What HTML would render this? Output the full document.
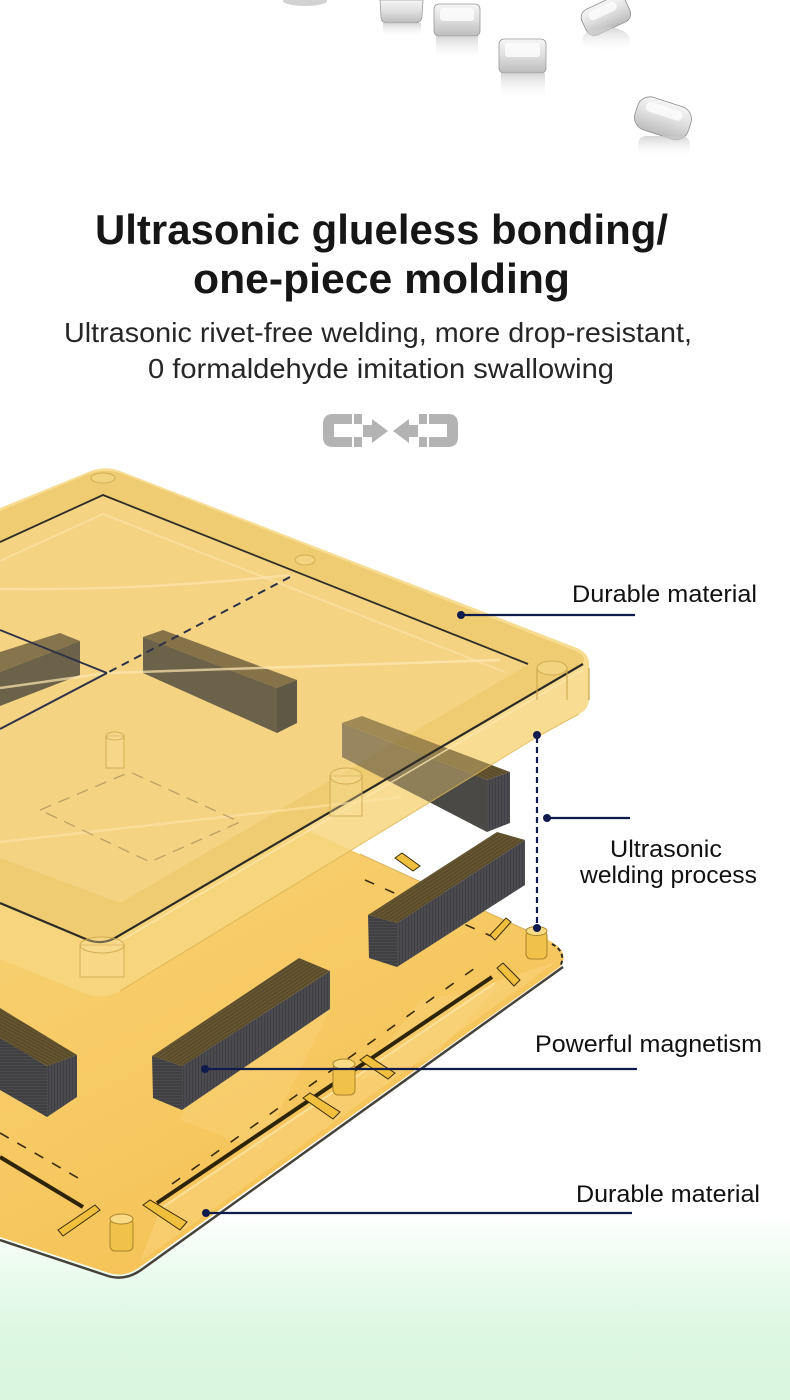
<!DOCTYPE html>
<html><head><meta charset="utf-8">
<style>
html,body{margin:0;padding:0;}
body{width:790px;height:1400px;overflow:hidden;background:#fff;}
svg{display:block;}
text{font-family:"Liberation Sans",Arial,sans-serif;}
</style></head>
<body>
<svg width="790" height="1400" viewBox="0 0 790 1400" xmlns="http://www.w3.org/2000/svg">
<defs>
  <linearGradient id="bg" x1="0" y1="0" x2="0" y2="1400" gradientUnits="userSpaceOnUse">
    <stop offset="0" stop-color="#ffffff"/>
    <stop offset="0.868" stop-color="#ffffff"/>
    <stop offset="0.91" stop-color="#eafbed"/>
    <stop offset="0.95" stop-color="#ddf7e2"/>
    <stop offset="1" stop-color="#daf6df"/>
  </linearGradient>
  <linearGradient id="pel" x1="0" y1="0" x2="0" y2="1">
    <stop offset="0" stop-color="#f6f6f6"/>
    <stop offset="0.5" stop-color="#dedede"/>
    <stop offset="1" stop-color="#bcbcbc"/>
  </linearGradient>
  <linearGradient id="refl" x1="0" y1="0" x2="0" y2="1">
    <stop offset="0" stop-color="#c8c8c8" stop-opacity="0.75"/>
    <stop offset="1" stop-color="#ffffff" stop-opacity="0"/>
  </linearGradient>
  <linearGradient id="baseg" x1="150" y1="850" x2="350" y2="1250" gradientUnits="userSpaceOnUse">
    <stop offset="0" stop-color="#f7cf70"/>
    <stop offset="1" stop-color="#f6c254"/>
  </linearGradient>
  <pattern id="pf" width="3" height="20" patternUnits="userSpaceOnUse">
    <rect width="3" height="20" fill="#4b4b4f"/><rect width="1" height="20" fill="#404044"/>
  </pattern>
  <pattern id="pt" width="8" height="3" patternUnits="userSpaceOnUse" patternTransform="rotate(-33)">
    <rect width="8" height="3" fill="#5a4b2b"/><rect width="8" height="1" fill="#6c5b33"/>
  </pattern>
  <pattern id="pt2" width="8" height="3" patternUnits="userSpaceOnUse" patternTransform="rotate(28)">
    <rect width="8" height="3" fill="#5a4b2b"/><rect width="8" height="1" fill="#6c5b33"/>
  </pattern>
  <pattern id="pe" width="20" height="3" patternUnits="userSpaceOnUse">
    <rect width="20" height="3" fill="#404043"/><rect width="20" height="1" fill="#4b4b4e"/>
  </pattern>
  <clipPath id="bodyclip">
    <path d="M0,508 L86,473 Q103,465 120,471 L577,648 Q591,654 589,668 L589,700 Q588,710 579,714 L537,737 L120,991 Q103,1000 86,994 L0,959 Z"/>
  </clipPath>
</defs>

<!-- background -->
<rect x="0" y="0" width="790" height="1400" fill="url(#bg)"/>

<!-- ice pellets -->
<g>
  <ellipse cx="305" cy="1" rx="22" ry="5" fill="#d2d2d2"/>
  <path d="M380,0 L423,0 L422,17 Q421,23 414,23 L388,23 Q381,23 381,17 Z" fill="url(#pel)" stroke="#9c9c9c" stroke-width="0.8"/>
  <rect x="383" y="23" width="38" height="15" fill="url(#refl)"/>
  <rect x="434" y="4" width="46" height="32" rx="5" fill="url(#pel)" stroke="#999" stroke-width="0.8"/>
  <rect x="440" y="8" width="34" height="13" rx="3" fill="#fbfbfb" opacity="0.85"/>
  <rect x="436" y="36" width="42" height="24" fill="url(#refl)"/>
  <rect x="499" y="39" width="47" height="34" rx="5" fill="url(#pel)" stroke="#999" stroke-width="0.8"/>
  <rect x="505" y="43" width="35" height="14" rx="3" fill="#fbfbfb" opacity="0.85"/>
  <rect x="501" y="73" width="44" height="27" fill="url(#refl)"/>
  <g transform="rotate(-25 605 16)">
    <rect x="582" y="2" width="48" height="28" rx="9" fill="url(#pel)" stroke="#8f8f8f" stroke-width="0.8"/>
    <rect x="590" y="6" width="30" height="9" rx="4" fill="#fcfcfc" opacity="0.8"/>
  </g>
  <ellipse cx="606" cy="40" rx="24" ry="13" fill="url(#refl)"/>
  <g transform="rotate(18 662 118)">
    <rect x="635" y="101" width="56" height="34" rx="13" fill="url(#pel)" stroke="#8f8f8f" stroke-width="0.8"/>
    <rect x="643" y="106" width="38" height="10" rx="5" fill="#fcfcfc" opacity="0.8"/>
  </g>
  <rect x="638" y="136" width="52" height="22" rx="8" fill="url(#refl)"/>
</g>

<!-- Title -->
<text x="95" y="244" font-size="42" font-weight="700" fill="#161616" textLength="573" lengthAdjust="spacingAndGlyphs">Ultrasonic glueless bonding/</text>
<text x="193" y="293" font-size="42" font-weight="700" fill="#161616" textLength="377" lengthAdjust="spacingAndGlyphs">one-piece molding</text>
<text x="64" y="342" font-size="28" fill="#262626" textLength="628" lengthAdjust="spacingAndGlyphs">Ultrasonic rivet-free welding, more drop-resistant,</text>
<text x="148" y="378" font-size="28" fill="#262626" textLength="466" lengthAdjust="spacingAndGlyphs">0 formaldehyde imitation swallowing</text>

<!-- magnet icon -->
<g fill="#b3b3b3">
  <path d="M352,414 L333,414 Q323,414 323,424 L323,437 Q323,447 333,447 L352,447 L352,437 L334,437 L334,424 L352,424 Z"/>
  <rect x="354" y="414" width="8" height="10"/>
  <rect x="354" y="437" width="8" height="10"/>
  <rect x="363" y="425" width="10" height="12"/>
  <polygon points="372,419 388,431 372,443"/>
  <path d="M429,414 L448,414 Q458,414 458,424 L458,437 Q458,447 448,447 L429,447 L429,437 L447,437 L447,424 L429,424 Z"/>
  <rect x="419" y="414" width="8" height="10"/>
  <rect x="419" y="437" width="8" height="10"/>
  <rect x="408" y="425" width="10" height="12"/>
  <polygon points="409,419 393,431 409,443"/>
</g>

<!-- ===== BASE PLATE ===== -->
<path d="M0,690 L548,940 Q570,951 561,966 L140,1267 Q124,1279 106,1272 L0,1237 Z" fill="url(#baseg)"/>
<path d="M160,1210 L495,982 L556,962 L140,1262 Z" fill="#f8d27c" opacity="0.6"/>
<polygon points="230,1000 330,1010 260,1150 180,1120" fill="#f9d885" opacity="0.35"/>
<polygon points="420,1000 500,985 430,1060 360,1080" fill="#f9d885" opacity="0.35"/>
<path d="M563,967 L141,1270 Q124,1282 105,1275 L0,1240" fill="none" stroke="#46423a" stroke-width="2.5"/>
<path d="M360,854 L548,940" fill="none" stroke="#c99d38" stroke-width="1" opacity="0.7"/>
<path d="M552,944 Q567,952 560,967" fill="none" stroke="#2a2a2a" stroke-width="2" stroke-dasharray="4 3"/>
<path d="M157,1203 L492,977" stroke="#2e2408" stroke-width="4"/>
<path d="M160,1209 L495,983" stroke="#fbe09a" stroke-width="2"/>
<path d="M0,1157 L83,1207" stroke="#2e2408" stroke-width="4"/>
<path d="M172,1184 L482,963" stroke="#3a2c0a" stroke-width="1.6" stroke-dasharray="10 14"/>
<path d="M0,1133 L78,1178" stroke="#3a2c0a" stroke-width="1.6" stroke-dasharray="10 10"/>
<path d="M365,880 L500,940" stroke="#3a2c0a" stroke-width="1.6" stroke-dasharray="10 12"/>
<g fill="#f0bf3e" stroke="#3a2c0a" stroke-width="1">
  <polygon points="143,1205 150,1200 187,1222 180,1230"/>
  <polygon points="58,1230 95,1205 100,1210 63,1236"/>
  <polygon points="303,1098 310,1093 340,1112 333,1119"/>
  <polygon points="360,1060 367,1055 395,1073 388,1079"/>
  <polygon points="490,935 506,918 511,922 495,940"/>
  <polygon points="497,968 503,963 520,980 514,986"/>
  <polygon points="395,858 402,853 420,866 413,871"/>
</g>
<g stroke="#a9842a" stroke-width="1">
  <rect x="110" y="1219" width="23" height="32" rx="5" fill="#f0c24a"/>
  <ellipse cx="121.5" cy="1219" rx="11.5" ry="5" fill="#f9db86"/>
  <rect x="333" y="1064" width="22" height="31" rx="5" fill="#f0c24a"/>
  <ellipse cx="344" cy="1064" rx="11" ry="5" fill="#f9db86"/>
  <rect x="526" y="931" width="21" height="28" rx="5" fill="#f0c24a"/>
  <ellipse cx="536.5" cy="931" rx="10.5" ry="4.5" fill="#f9db86"/>
</g>

<!-- ===== LOWER MAGNETS ===== -->
<polygon points="368,915 497,832 525,840 397,923" fill="url(#pt)"/>
<polygon points="397,923 525,840 525,885 397,967" fill="url(#pf)"/>
<polygon points="368,915 397,923 397,967 369,958" fill="url(#pe)"/>
<polygon points="152,1056 299,958 330,971 182,1066" fill="url(#pt)"/>
<polygon points="182,1066 330,971 330,1009 182,1110" fill="url(#pf)"/>
<polygon points="152,1056 182,1066 182,1110 153,1098" fill="url(#pe)"/>
<polygon points="0,1008 77,1055 47,1066 0,1038" fill="url(#pt2)"/>
<polygon points="0,1038 47,1066 47,1117 0,1090" fill="url(#pe)"/>
<polygon points="47,1066 77,1055 77,1097 47,1117" fill="url(#pf)"/>

<!-- magnet C (opaque part outside tray) -->
<polygon points="342,723 362,716 510,772 487,780" fill="url(#pt2)"/>
<polygon points="342,723 487,780 487,832 342,757" fill="#4a4945"/>
<polygon points="487,780 510,772 510,823 487,832" fill="url(#pf)"/>

<!-- ===== UPPER TRAY ===== -->
<path d="M0,508 L86,473 Q103,465 120,471 L577,648 Q591,654 589,668 L589,700 Q588,710 579,714 L537,737 L120,991 Q103,1000 86,994 L0,959 Z" fill="rgb(247,214,128)" fill-opacity="0.86"/>
<path d="M0,511 L86,475 Q103,468 120,473 L576,651 Q588,657 582,665 L115,938 Q102,945 88,940 L0,903 Z" fill="#efcc72"/>
<path d="M0,542 L103,496 L528,665 L120,903 L0,858 Z" fill="#f4d383"/>

<!-- magnet C seen through tray -->
<g clip-path="url(#bodyclip)" opacity="0.5">
  <polygon points="342,723 362,716 510,772 487,780" fill="#4e4128"/>
  <polygon points="342,723 487,780 487,832 342,757" fill="#3e3d3a"/>
  <polygon points="487,780 510,772 510,823 487,832" fill="#3a3a3c"/>
</g>

<!-- upper magnets (seen through) -->
<polygon points="0,652 60,633 80,641 0,672" fill="#85744c"/>
<polygon points="0,672 80,641 80,675 0,706" fill="#6c6249"/>
<polygon points="143,637 163,630 297,680 277,688" fill="#857249"/>
<polygon points="143,637 277,688 277,733 143,673" fill="#6c6249"/>
<polygon points="277,688 297,680 297,723 277,733" fill="#5f5845"/>

<!-- rim lines -->
<path d="M0,542 L103,495 L528,664" fill="none" stroke="#2d2c28" stroke-width="1.8"/>
<path d="M0,561 L103,514 L505,672" fill="none" stroke="#fbe6ae" stroke-width="2" opacity="0.55"/>
<path d="M583,664 L115,938 Q102,945 88,940 L0,903" fill="none" stroke="#2b2a24" stroke-width="2.2"/>
<path d="M583,670 L117,943" fill="none" stroke="#fce7b0" stroke-width="1.5" opacity="0.8"/>
<path d="M589,668 L589,700" stroke="#c9a448" stroke-width="1.2"/>
<path d="M579,714 L537,737 L120,991" fill="none" stroke="#d9b450" stroke-width="1" opacity="0.8"/>
<!-- interior lines -->
<path d="M0,589 Q140,591 290,575" fill="none" stroke="#fde8b4" stroke-width="2.5" opacity="0.6"/>
<path d="M0,688 L107,673 L500,660" fill="none" stroke="#fde8b4" stroke-width="2.5" opacity="0.7"/>
<path d="M0,842 L402,797" fill="none" stroke="#fde4a6" stroke-width="2.5" opacity="0.6"/>
<path d="M290,577 L107,673" stroke="#2c3148" stroke-width="2" stroke-dasharray="8 6"/>
<path d="M107,673 L0,729" stroke="#2c3148" stroke-width="2"/>
<path d="M0,630 L107,673" stroke="#2c3148" stroke-width="1.8"/>
<path d="M40,810 L130,772 L240,822 L150,862 Z" fill="none" stroke="#3a3020" stroke-width="1.3" stroke-dasharray="12 8" opacity="0.3"/>
<!-- tray posts -->
<g fill="#f9df98" fill-opacity="0.35" stroke="#c9a448" stroke-width="1" stroke-opacity="0.8">
  <rect x="106" y="736" width="18" height="32"/>
  <ellipse cx="115" cy="736" rx="9" ry="4"/>
  <rect x="330" y="776" width="32" height="40"/>
  <ellipse cx="346" cy="776" rx="16" ry="8"/>
  <rect x="80" y="945" width="44" height="32"/>
  <ellipse cx="102" cy="945" rx="22" ry="8"/>
  <ellipse cx="552" cy="668" rx="15" ry="7"/>
  <ellipse cx="103" cy="478" rx="12" ry="5"/>
  <ellipse cx="305" cy="560" rx="10" ry="5"/>
</g>
<path d="M537,668 L537,700 M567,668 L567,700" stroke="#c9a448" stroke-width="1"/>

<!-- ===== CONNECTORS ===== -->
<g stroke="#0f1b4d" stroke-width="2.2" fill="none">
  <path d="M461,615 L635,615"/>
  <path d="M537,737 L537,928" stroke-dasharray="6 4"/>
  <path d="M547,818 L630,818"/>
  <path d="M205,1069 L637,1069"/>
  <path d="M206,1213 L632,1213"/>
</g>
<g fill="#0f1b4d">
  <circle cx="461" cy="615" r="4"/>
  <circle cx="537" cy="735" r="4"/>
  <circle cx="537" cy="928" r="4"/>
  <circle cx="547" cy="818" r="4"/>
  <circle cx="205" cy="1069" r="4"/>
  <circle cx="206" cy="1213" r="4"/>
</g>

<!-- labels -->
<g font-size="24.5" fill="#111">
  <text x="572" y="602" textLength="185" lengthAdjust="spacingAndGlyphs">Durable material</text>
  <text x="610" y="857" textLength="112" lengthAdjust="spacingAndGlyphs">Ultrasonic</text>
  <text x="580" y="883" textLength="177" lengthAdjust="spacingAndGlyphs">welding process</text>
  <text x="535" y="1052" textLength="227" lengthAdjust="spacingAndGlyphs">Powerful magnetism</text>
  <text x="576" y="1202" textLength="184" lengthAdjust="spacingAndGlyphs">Durable material</text>
</g>
</svg>
</body></html>
